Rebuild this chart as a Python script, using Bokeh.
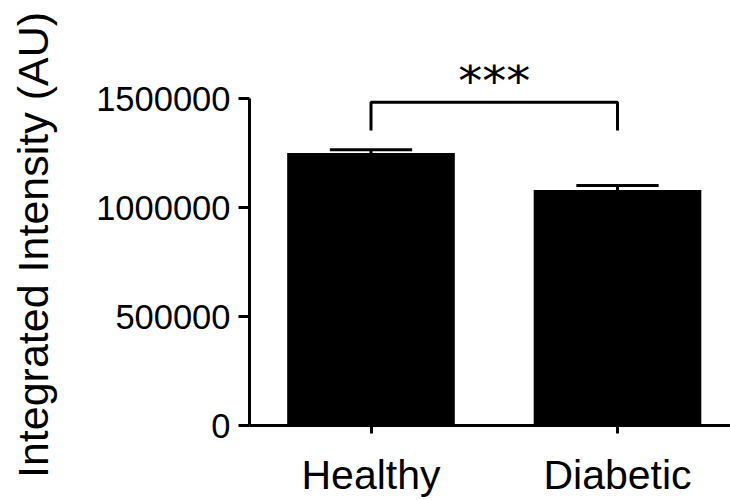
import numpy as np
from bokeh.plotting import figure
from bokeh.models import Range1d, FixedTicker, Label, ColumnDataSource
from bokeh.embed import file_html
from bokeh.resources import INLINE

# ---- data ----
groups = ["Healthy", "Diabetic"]
means = [1250000, 1080000]
sems = [15000, 21000]
y_ticks = [0, 500000, 1000000, 1500000]
y_label = "Integrated Intensity (AU)"
sig_text = "***"
sig_top = 1483000
sig_low = 1353000

FONT = "Liberation Sans"
xs = list(range(len(groups)))
bar_width = 0.68
cap_half = 0.167

p = figure(width=730, height=500, output_backend="svg", toolbar_location=None,
           x_range=Range1d(-0.4929, 1.4584), y_range=Range1d(0, 1656000),
           min_border_left=249, min_border_right=0, min_border_top=64,
           min_border_bottom=75)
p.outline_line_color = None
p.grid.visible = False
p.background_fill_color = "white"
p.border_fill_color = "white"

src = ColumnDataSource(dict(x=xs, top=means,
                            hi=[m + s for m, s in zip(means, sems)],
                            cl=[x - cap_half for x in xs],
                            cr=[x + cap_half for x in xs]))
p.vbar(x="x", top="top", width=bar_width, source=src, fill_color="black", line_color=None)
p.segment(x0="x", y0="top", x1="x", y1="hi", source=src, line_color="black", line_width=3)
p.segment(x0="cl", y0="hi", x1="cr", y1="hi", source=src, line_color="black", line_width=3)

# significance bracket
p.line(x=[xs[0], xs[0], xs[1], xs[1]], y=[sig_low, sig_top, sig_top, sig_low],
       line_color="black", line_width=3)
p.add_layout(Label(x=(xs[0] + xs[1]) / 2, y=sig_top, y_offset=21, text=sig_text,
                   text_align="center", text_baseline="alphabetic",
                   text_font="DejaVu Sans", text_font_size="48px", text_color="black"))

# axes
yax = p.yaxis[0]
yax.ticker = FixedTicker(ticks=y_ticks)
yax.bounds = (0, 1500000)
yax.axis_line_width = 3
yax.major_tick_line_width = 3
yax.major_tick_out = 11
yax.major_tick_in = 0
yax.minor_tick_out = 0
yax.minor_tick_in = 0
yax.major_label_standoff = 8
yax.major_label_text_font = FONT
yax.major_label_text_font_size = "34.5px"
yax.major_label_text_color = "black"
yax.formatter.use_scientific = False
yax.axis_label = y_label
yax.axis_label_standoff = 36
yax.axis_label_text_font = FONT
yax.axis_label_text_font_size = "43px"
yax.axis_label_text_font_style = "normal"
yax.axis_label_text_color = "black"

xax = p.xaxis[0]
xax.ticker = FixedTicker(ticks=xs)
xax.major_label_overrides = {x: g for x, g in zip(xs, groups)}
xax.axis_line_width = 3
xax.major_tick_line_width = 3
xax.major_tick_out = 8
xax.major_tick_in = 0
xax.minor_tick_out = 0
xax.minor_tick_in = 0
xax.major_label_standoff = 18
xax.major_label_text_font = FONT
xax.major_label_text_font_size = "41px"
xax.major_label_text_color = "black"

open("out.html", "w").write(file_html(p, INLINE))
